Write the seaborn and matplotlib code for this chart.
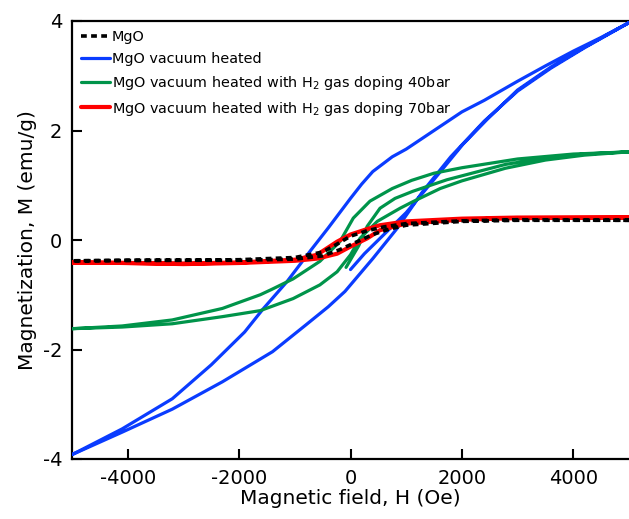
import numpy as np
import pandas as pd
import matplotlib
matplotlib.use("Agg")
import matplotlib.pyplot as plt
import seaborn as sns

# ---- data (H in Oe, M in emu/g) ----
# MgO (no virgin branch visible)
mgo_h = [5000, 3000, 2000, 1000, 600, 300, 0, -250, -500, -1000, -2000, -3000, -4000, -5000,
         -3000, -2000, -1000, -500, -200, 100, 400, 700, 1000, 2000, 3000, 5000]
mgo_m = [0.36, 0.37, 0.35, 0.30, 0.24, 0.17, 0.07, -0.08, -0.22, -0.32, -0.36, -0.37, -0.37, -0.38,
         -0.37, -0.37, -0.35, -0.29, -0.18, -0.04, 0.10, 0.20, 0.27, 0.34, 0.36, 0.36]

# MgO vacuum heated: virgin -> descending -> ascending
vac_h = [0, 250, 530, 1000, 1430, 2020, 2450, 3000, 3600, 4200, 5000,
         4500, 4000, 3500, 3000, 2400, 2000, 1500, 1000, 750, 400, 200, 0, -200, -400, -730,
         -1140, -1570, -1900, -2500, -3200, -4100, -5000,
         -4100, -3200, -2300, -1400, -800, -400, -100, 400, 835, 1300, 1800, 2400, 3000,
         3600, 4200, 5000]
vac_m = [-0.54, -0.25, 0.03, 0.50, 1.02, 1.75, 2.20, 2.74, 3.16, 3.52, 3.97,
         3.70, 3.45, 3.18, 2.90, 2.55, 2.34, 2.00, 1.66, 1.52, 1.25, 1.02, 0.76, 0.49, 0.22, -0.21,
         -0.76, -1.26, -1.68, -2.28, -2.90, -3.45, -3.92,
         -3.51, -3.09, -2.59, -2.04, -1.55, -1.22, -0.94, -0.34, 0.21, 0.89, 1.52, 2.17, 2.72,
         3.14, 3.51, 3.97]

# MgO vacuum heated with H2 40 bar
h40_h = [-80, 150, 300, 530, 800, 1120, 1730, 2780, 3500, 4200, 5000,
         4000, 3000, 2000, 1500, 1100, 750, 350, 50, -190, -550, -1030, -1410, -1620,
         -2300, -3200, -4100, -5000,
         -4100, -3200, -2300, -1620, -1030, -550, -240, 0, 170, 480, 890, 1120, 1610,
         2000, 2780, 3500, 4200, 5000]
h40_m = [-0.50, -0.10, 0.25, 0.58, 0.76, 0.89, 1.10, 1.38, 1.50, 1.57, 1.61,
         1.57, 1.48, 1.32, 1.22, 1.09, 0.94, 0.71, 0.40, -0.03, -0.39, -0.71, -0.90, -1.00,
         -1.25, -1.46, -1.57, -1.62,
         -1.59, -1.53, -1.40, -1.29, -1.07, -0.82, -0.58, -0.27, 0.03, 0.34, 0.58, 0.70, 0.94,
         1.08, 1.31, 1.46, 1.55, 1.61]

# MgO vacuum heated with H2 70 bar
h70_h = [5000, 3000, 2000, 1000, 530, 300, 0, -240, -600, -1000, -2000, -3000, -4000, -5000,
         -4000, -3000, -2000, -1000, -600, -240, 0, 300, 530, 1000, 2000, 3000, 5000]
h70_m = [0.41, 0.41, 0.39, 0.34, 0.27, 0.20, 0.10, -0.03, -0.27, -0.36, -0.41, -0.43, -0.42, -0.41,
         -0.42, -0.44, -0.42, -0.38, -0.34, -0.25, -0.12, 0.03, 0.18, 0.30, 0.37, 0.40, 0.41]

labels = ["MgO", "MgO vacuum heated",
          "MgO vacuum heated with H$_2$ gas doping 40bar",
          "MgO vacuum heated with H$_2$ gas doping 70bar"]
colors = ["black", "#0a3cff", "#00944a", "#ff0000"]

# ---- style ----
sns.set_style("ticks")
plt.rcParams['font.family'] = ['DejaVu Sans']
plt.rcParams['mathtext.fontset'] = 'dejavusans'
plt.rcParams['axes.unicode_minus'] = False
plt.rcParams['text.color'] = 'black'
plt.rcParams['axes.labelcolor'] = 'black'
plt.rcParams['xtick.color'] = 'black'
plt.rcParams['ytick.color'] = 'black'

fig = plt.figure(figsize=(6.29, 5.19), dpi=100)
ax = fig.add_axes([72 / 629, 1 - 459 / 519, 1 - 72 / 629, (459 - 21) / 519])

series = [(mgo_h, mgo_m), (vac_h, vac_m), (h40_h, h40_m), (h70_h, h70_m)]
zorders = [6, 3, 4, 5]
for (h, m), lab, col, z in zip(series, labels, colors, zorders):
    df = pd.DataFrame({"H": h, "M": m})
    if lab == "MgO":
        sns.lineplot(data=df, x="H", y="M", sort=False, estimator=None, ax=ax,
                     color=col, lw=2.6, label=lab, zorder=z)
        ax.lines[-1].set_dashes((1.6, 1.2))
    else:
        sns.lineplot(data=df, x="H", y="M", sort=False, estimator=None, ax=ax,
                     color=col, lw=2.3 if col != "#ff0000" else 3.0, label=lab, zorder=z)

ax.set_xlim(-5000, 5000)
ax.set_ylim(-4, 4)
ax.set_xticks([-4000, -2000, 0, 2000, 4000])
ax.set_yticks([-4, -2, 0, 2, 4])
ax.tick_params(direction="in", length=7, width=1.5, labelsize=14, pad=7)
ax.set_xlabel("Magnetic field, H (Oe)", fontsize=14.5, labelpad=1)
ax.set_ylabel("Magnetization, M (emu/g)", fontsize=14.5, labelpad=4)
for s in ["left", "bottom", "top"]:
    ax.spines[s].set_linewidth(1.6)
    ax.spines[s].set_color("black")
ax.spines["right"].set_visible(False)

ax.legend(loc="upper left", frameon=False, fontsize=10.4, handlelength=2.0,
          handletextpad=0.15, labelspacing=0.55, borderaxespad=0.2,
          bbox_to_anchor=(0.0, 1.0))

fig.savefig("out.png", dpi=100)
